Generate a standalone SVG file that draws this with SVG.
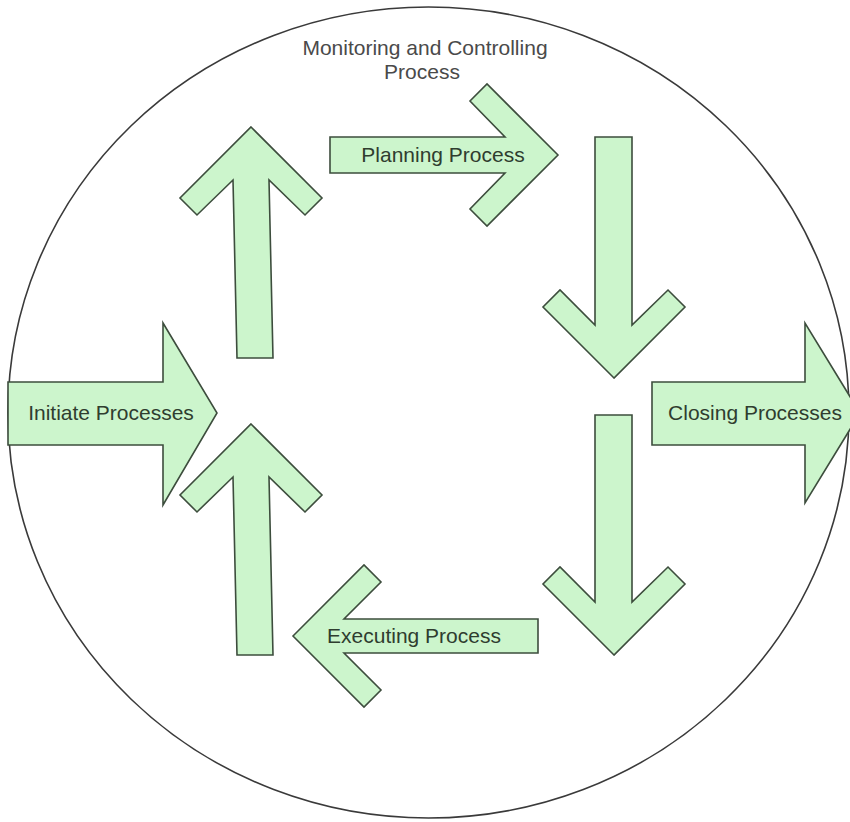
<svg xmlns="http://www.w3.org/2000/svg" width="850" height="822" viewBox="0 0 850 822">
  <style>
    .arrow { fill: #ccf5cc; stroke: #3d4d3d; stroke-width: 1.6; stroke-linejoin: miter; }
    .ring { fill: #ffffff; stroke: #3a3a3a; stroke-width: 1.6; }
    .lbl { font-family: "Liberation Sans", Arial, sans-serif; font-size: 21px; fill: #2f3d2f; text-anchor: middle; }
    .title { font-family: "Liberation Sans", Arial, sans-serif; font-size: 21px; fill: #4a4a4a; text-anchor: middle; }
  </style>
  <rect x="0" y="0" width="850" height="822" fill="#ffffff"/>

  <g id="monitoring">
    <ellipse class="ring" cx="428.5" cy="412.5" rx="420.5" ry="405.5"/>
    <text class="title" x="425" y="55">Monitoring and Controlling</text>
    <text class="title" x="422" y="79">Process</text>
  </g>

  <g id="initiate">
    <polygon class="arrow" points="8,382 163,382 163,323 217,413 163,505 163,445 8,445"/>
    <text class="lbl" x="111" y="420">Initiate Processes</text>
  </g>

  <g id="planning">
    <polygon class="arrow" points="558,155 487,84 470,101 505,137 330,137 330,173 505,173 470,209 487,226"/>
    <text class="lbl" x="443" y="162">Planning Process</text>
  </g>

  <g id="closing">
    <polygon class="arrow" points="652,382 805,382 805,323 860,413 805,503 805,445 652,445"/>
    <text class="lbl" x="755" y="420">Closing Processes</text>
  </g>

  <g id="executing">
    <polygon class="arrow" points="293,636 364,565 381,582 344,619 538,619 538,653 344,653 381,690 364,707"/>
    <text class="lbl" x="414" y="643">Executing Process</text>
  </g>

  <g id="connectors">
    <polygon class="arrow" points="251,127 322,198 305,215 269,180 273,358 237,358 233,180 197,215 180,198"/>
    <polygon class="arrow" points="614,378 543,307 560,290 595,325 595,137 632,137 632,325 668,290 685,307"/>
    <polygon class="arrow" points="614,655 543,584 560,567 595,602 595,415 632,415 632,602 668,567 685,584"/>
    <polygon class="arrow" points="251,424 322,495 305,512 269,477 273,655 237,655 233,477 197,512 180,495"/>
  </g>
</svg>
